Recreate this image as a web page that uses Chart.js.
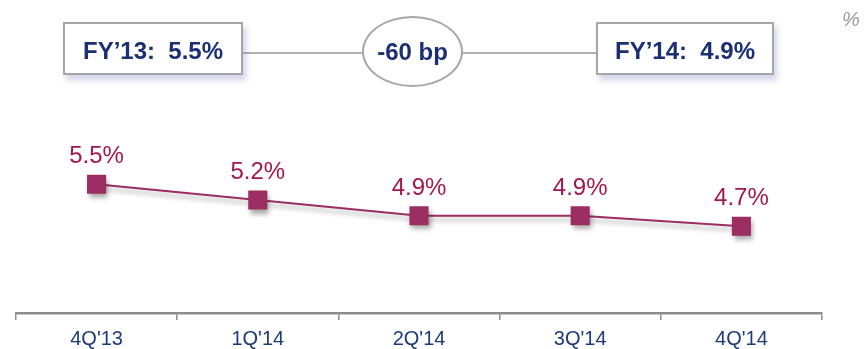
<!DOCTYPE html>
<html>
<head>
<meta charset="utf-8">
<script src="https://cdn.jsdelivr.net/npm/chart.js@4.4.1/dist/chart.umd.min.js"></script>
<style>
  html, body { margin: 0; padding: 0; background: #fff; }
  #wrap { position: relative; width: 866px; height: 349px; font-family: "Liberation Sans", Arial, sans-serif; }
  #chart { position: absolute; left: 0; top: 0; }
  .box {
    position: absolute; top: 22px; height: 53px; box-sizing: border-box;
    background: #fff; border: 2px solid #a6a6a6;
    box-shadow: 3px 5px 6px rgba(120, 130, 190, 0.35);
    color: #1b2f73; font-weight: bold; font-size: 24px; padding-top: 4px;
    display: flex; align-items: center; justify-content: center; white-space: pre;
  }
  .link { position: absolute; top: 52px; height: 2px; background: #b0b0b0; }
  .oval {
    position: absolute; left: 362px; top: 16px; width: 101px; height: 71px; box-sizing: border-box;
    border: 2px solid #a6a6a6; border-radius: 50%; background: #fff;
    color: #1b2f73; font-weight: bold; font-size: 24px;
    display: flex; align-items: center; justify-content: center;
  }
  .unit { position: absolute; left: 842px; top: 8px; color: #9a9a9a; font-size: 20px; font-style: italic; }
</style>
</head>
<body>
<div id="wrap">
  <canvas id="chart" width="866" height="349"></canvas>
  <div class="link" style="left:243px; width:120px;"></div>
  <div class="link" style="left:462px; width:135px;"></div>
  <div class="box" style="left:63px; width:180px;">FY’13:  5.5%</div>
  <div class="oval">-60 bp</div>
  <div class="box" style="left:596px; width:178px;">FY’14:  4.9%</div>
  <div class="unit">%</div>
</div>
<script>
// Quarterly ratio, in percent
const quarters = ["4Q'13", "1Q'14", "2Q'14", "3Q'14", "4Q'14"];
const ratio = [5.5, 5.2, 4.9, 4.9, 4.7];

const lineColor = '#9b2d62';
const labelColor = '#a3174e';

// Writes each point's value above its marker
const valueLabels = {
  id: 'valueLabels',
  afterDatasetsDraw(chart) {
    const ctx = chart.ctx;
    const meta = chart.getDatasetMeta(0);
    ctx.save();
    ctx.font = '24px "Liberation Sans", Arial, sans-serif';
    ctx.fillStyle = labelColor;
    ctx.textAlign = 'center';
    ctx.textBaseline = 'alphabetic';
    meta.data.forEach((pt, i) => {
      ctx.fillText(ratio[i].toFixed(1) + '%', pt.x, pt.y - 21);
    });
    ctx.restore();
  }
};

// Soft drop shadow under the line and markers
const markerShadow = {
  id: 'markerShadow',
  beforeDatasetsDraw(chart) {
    const ctx = chart.ctx;
    ctx.save();
    ctx.shadowColor = 'rgba(0,0,0,0.35)';
    ctx.shadowBlur = 5;
    ctx.shadowOffsetX = 2;
    ctx.shadowOffsetY = 4;
  },
  afterDatasetsDraw(chart) {
    chart.ctx.restore();
  }
};

new Chart(document.getElementById('chart'), {
  type: 'line',
  data: {
    labels: quarters,
    datasets: [{
      data: ratio,
      borderColor: lineColor,
      borderWidth: 2,
      backgroundColor: lineColor,
      pointStyle: 'rect',
      pointRadius: 13.5,
      pointHoverRadius: 13.5,
      pointBorderWidth: 0,
      tension: 0
    }]
  },
  options: {
    responsive: false,
    animation: false,
    layout: { padding: { left: 16, right: 44, top: 0, bottom: -9 } },
    plugins: { legend: { display: false }, tooltip: { enabled: false } },
    scales: {
      x: {
        offset: true,
        grid: { offset: true, drawOnChartArea: false, drawTicks: true, tickLength: 7, color: '#8c8c8c', lineWidth: 1.5 },
        border: { display: true, color: '#8c8c8c', width: 2.5 },
        ticks: { color: '#1f3a7a', font: { size: 20, family: '"Liberation Sans", Arial, sans-serif' }, padding: 7 }
      },
      y: {
        display: false,
        min: 3.05,
        max: 8.75
      }
    }
  },
  plugins: [markerShadow, valueLabels]
});
</script>
</body>
</html>
